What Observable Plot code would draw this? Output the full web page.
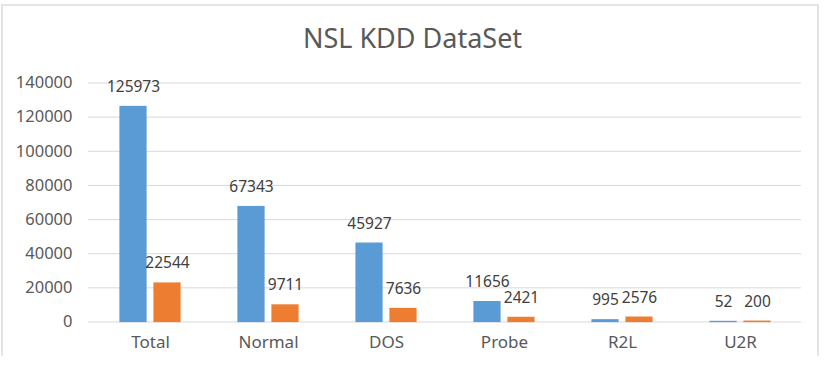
<!DOCTYPE html>
<html>
<head>
<meta charset="utf-8">
<script src="https://cdn.jsdelivr.net/npm/d3@7"></script>
<script src="https://cdn.jsdelivr.net/npm/@observablehq/plot@0.6"></script>
<style>
  html, body { margin: 0; padding: 0; background: #fff; }
  #wrap { position: relative; width: 829px; height: 370px; overflow: hidden; font-family: "Noto Sans", sans-serif; }
  #frame { position: absolute; left: 1px; top: 4px; width: 818px; height: 352px; box-sizing: border-box;
           border-left: 2px solid #e4e4e4; border-top: 2px solid #e4e4e4; border-right: 2px solid #e4e4e4; }
  #title { height: 60px; box-sizing: border-box; padding-top: 23px; text-align: center; font-size: 27px; line-height: 30px;
           color: #595959; padding-right: 4px; }
  #chart svg { display: block; }
</style>
</head>
<body>
<div id="wrap">
  <div id="frame"></div>
  <div id="title">NSL KDD DataSet</div>
  <div id="chart"></div>
</div>
<script>
const categories = ["Total", "Normal", "DOS", "Probe", "R2L", "U2R"];
const trainValues = [125973, 67343, 45927, 11656, 995, 52];
const testValues = [22544, 9711, 7636, 2421, 2576, 200];
const yTicks = [0, 20000, 40000, 60000, 80000, 100000, 120000, 140000];

const train = categories.map((c, i) => ({category: c, value: trainValues[i]}));
const test = categories.map((c, i) => ({category: c, value: testValues[i]}));

const blue = "#5B9BD5", orange = "#ED7D31";
const inset = 46;

const plot = Plot.plot({
  width: 829,
  height: 310,
  marginLeft: 88,
  marginRight: 28,
  marginTop: 22.5,
  marginBottom: 48.5,
  style: {fontFamily: "'Noto Sans', sans-serif", background: "#fff", overflow: "visible"},
  x: {domain: categories, padding: 0, tickSize: 0, tickPadding: 14, label: null},
  y: {domain: [0, 140000], ticks: yTicks, tickFormat: d => String(d), tickSize: 0, tickPadding: 16, label: null},
  marks: [
    Plot.ruleY(yTicks, {stroke: "#d9d9d9", strokeWidth: 1}),
    Plot.barY(train, {x: "category", y: "value", fill: blue, stroke: blue, strokeWidth: 1.2, dx: -17, insetLeft: inset, insetRight: inset}),
    Plot.barY(test, {x: "category", y: "value", fill: orange, stroke: orange, strokeWidth: 1.2, dx: 17, insetLeft: inset, insetRight: inset}),
    Plot.text(train, {x: "category", y: "value", text: d => String(d.value), dx: -17, dy: -20, fill: "#404040", fontSize: 15.5}),
    Plot.text(test, {x: "category", y: "value", text: d => String(d.value), dx: 17, dy: -20, fill: "#404040", fontSize: 15.5})
  ]
});
d3.select(plot).selectAll("[aria-label='x-axis tick label'] text, [aria-label='y-axis tick label'] text").attr("fill", "#595959");
d3.select(plot).selectAll("[aria-label='x-axis tick label']").attr("font-size", 17);
d3.select(plot).selectAll("[aria-label='y-axis tick label']").attr("font-size", 16.5);
d3.select(plot).selectAll("[aria-label='x-axis'], [aria-label='y-axis']").attr("fill", "#595959");
document.getElementById("chart").appendChild(plot);
</script>
</body>
</html>
